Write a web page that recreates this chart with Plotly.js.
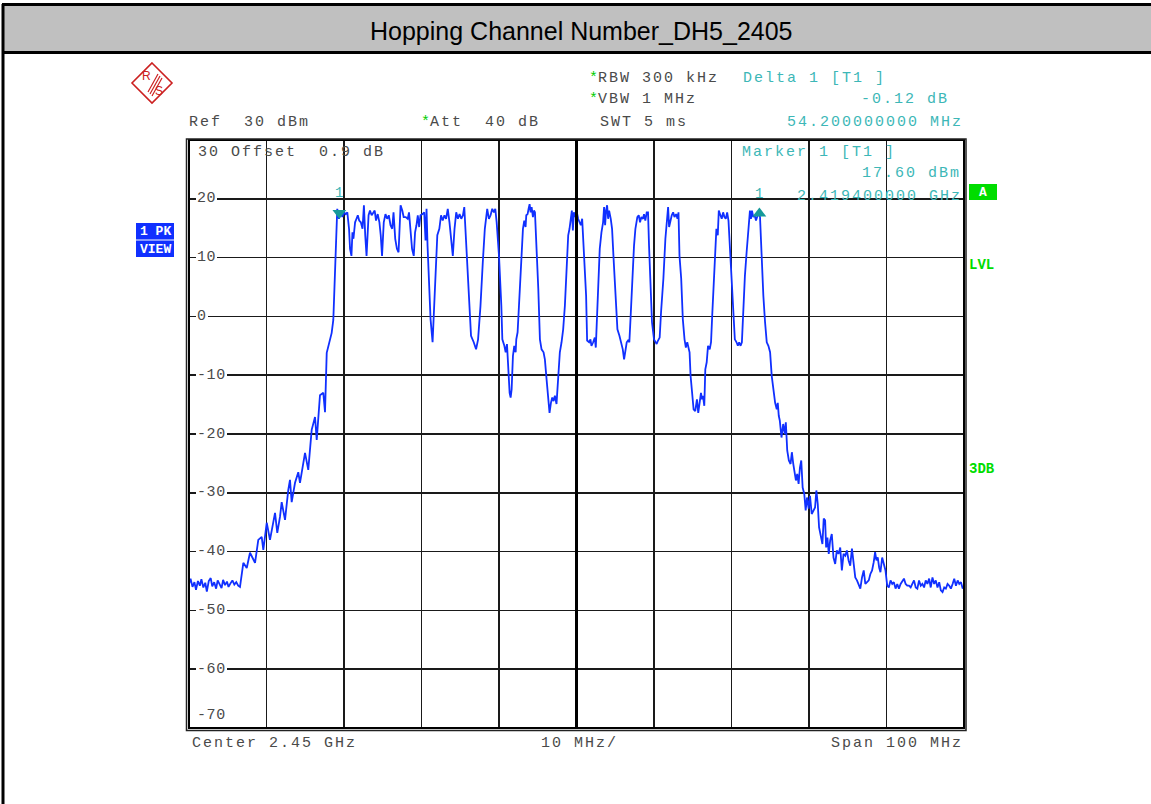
<!DOCTYPE html>
<html><head><meta charset="utf-8">
<script src="https://cdn.plot.ly/plotly-3.0.1.min.js"></script>
<style>html,body{margin:0;padding:0;background:#fff;overflow:hidden}</style>
</head><body><div id="chart" style="width:1151px;height:804px"></div>
<script>
// ---------------- DATA (frequency in MHz, level in dBm) ----------------
const noiseLeft = [[2400.00,-45.5],[2400.20,-44.6],[2400.45,-46.0],[2400.70,-45.2],[2400.90,-46.5],[2401.15,-45.0],[2401.40,-45.8],[2401.60,-44.7],[2401.85,-46.1],[2402.10,-45.3],[2402.30,-46.8],[2402.55,-45.0],[2402.80,-44.5],[2403.00,-45.9],[2403.25,-45.2],[2403.50,-46.3],[2403.70,-44.9],[2403.95,-45.6],[2404.20,-46.2],[2404.40,-44.8],[2404.65,-45.7],[2404.90,-45.1],[2405.10,-46.0],[2405.35,-45.4],[2405.60,-44.9],[2405.85,-45.6],[2406.10,-45.2],[2406.35,-45.8]];
const skirtLeft = [[2406.58,-46.0],[2407.01,-41.9],[2407.45,-42.8],[2407.87,-40.2],[2408.52,-41.9],[2408.94,-38.0],[2409.38,-37.5],[2409.59,-39.7],[2410.03,-35.1],[2410.45,-38.0],[2411.10,-33.4],[2411.39,-36.8],[2411.74,-34.1],[2411.96,-31.6],[2412.39,-34.6],[2412.81,-29.5],[2413.03,-27.8],[2413.25,-31.6],[2413.68,-28.3],[2414.10,-26.5],[2414.32,-28.3],[2414.97,-23.2],[2415.39,-26.1],[2415.83,-19.3],[2416.26,-17.1],[2416.48,-21.0],[2416.90,-13.4],[2417.33,-13.0],[2417.55,-16.3],[2417.77,-6.2],[2417.97,-5.2],[2418.41,-2.8],[2418.62,-0.6],[2419.13,18.3]];
const channelsA = [[2419.35,16.6],[2419.57,18.0],[2419.78,16.9],[2420.00,17.7],[2420.22,17.4],[2420.43,17.7],[2420.65,14.9],[2420.78,11.5],[2420.96,10.3],[2421.09,14.3],[2421.22,13.2],[2421.43,16.0],[2421.61,16.6],[2421.78,17.2],[2421.96,16.3],[2422.17,16.0],[2422.39,14.9],[2422.57,18.9],[2422.74,13.8],[2422.91,10.3],[2423.17,17.2],[2423.35,18.0],[2423.57,17.2],[2423.78,17.7],[2423.96,18.0],[2424.13,16.3],[2424.35,17.4],[2424.57,16.0],[2424.74,13.8],[2424.91,10.3],[2425.13,16.0],[2425.35,17.4],[2425.57,16.6],[2425.78,17.2],[2426.00,15.5],[2426.22,14.9],[2426.39,17.7],[2426.61,13.2],[2426.83,11.5],[2427.04,10.9],[2427.17,17.2],[2427.30,18.9],[2427.52,18.0],[2427.70,16.9],[2427.96,16.9],[2428.22,16.6],[2428.39,17.7],[2428.57,14.3],[2428.78,11.5],[2429.00,10.3],[2429.17,14.3],[2429.35,15.5],[2429.52,17.2],[2429.70,15.2],[2429.87,17.2],[2430.13,17.4],[2430.35,17.7],[2430.52,12.9],[2430.65,18.3],[2430.78,12.0],[2430.96,6.4],[2431.17,-0.5],[2431.43,-4.4],[2431.61,1.8],[2431.87,9.2],[2432.04,13.8],[2432.30,14.9],[2432.52,17.2],[2432.74,16.3],[2432.96,17.2],[2433.17,16.6],[2433.39,18.3],[2433.61,16.0],[2433.83,13.2],[2434.04,10.3],[2434.26,14.9],[2434.48,17.7],[2434.70,16.6],[2434.91,17.4],[2435.13,16.6],[2435.35,17.2],[2435.52,18.6],[2435.78,12.0],[2436.09,4.1],[2436.39,-3.3],[2436.74,-4.4],[2437.04,-5.6],[2437.30,-3.9],[2437.61,1.8],[2437.91,9.2],[2438.17,14.9],[2438.48,18.3],[2438.70,16.6],[2438.91,17.2],[2439.13,18.3],[2439.35,17.7],[2439.52,18.3],[2439.70,16.0],[2440.00,10.3],[2440.30,1.8]];
const channelsB = [[2440.43,-3.9],[2440.69,-5.0],[2440.86,-6.1],[2441.03,-4.7],[2441.20,-9.0],[2441.37,-13.0],[2441.50,-13.8],[2441.63,-12.4],[2441.80,-6.7],[2441.97,-5.0],[2442.15,-6.1],[2442.23,-3.9],[2442.40,-2.7],[2442.62,3.5],[2442.83,9.2],[2443.09,14.9],[2443.26,16.3],[2443.43,15.2],[2443.52,17.2],[2443.69,17.4],[2443.82,18.3],[2443.95,19.1],[2444.08,17.7],[2444.21,18.6],[2444.38,16.9],[2444.51,18.0],[2444.64,17.7],[2444.85,12.0],[2445.07,4.7],[2445.28,-3.9],[2445.49,-5.6],[2445.75,-6.1],[2445.92,-7.3],[2446.14,-10.7],[2446.35,-14.1],[2446.52,-16.4],[2446.70,-14.7],[2446.87,-13.8],[2447.04,-14.4],[2447.21,-13.5],[2447.42,-14.9],[2447.64,-9.5],[2447.85,-6.1],[2448.07,-4.4],[2448.28,-2.2],[2448.50,1.8],[2448.71,9.2],[2448.93,13.8],[2449.10,14.9],[2449.27,17.2],[2449.40,18.0],[2449.53,14.6],[2449.66,17.7],[2449.83,16.9],[2450.00,18.0],[2450.21,16.6],[2450.43,16.0],[2450.56,15.5],[2450.73,16.6],[2450.86,13.2],[2451.07,9.2],[2451.24,3.5],[2451.37,-4.1],[2451.63,-4.4],[2451.80,-3.9],[2451.93,-5.0],[2452.15,-4.4],[2452.36,-3.6],[2452.49,-5.3],[2452.62,-1.0],[2452.79,6.4],[2453.00,11.5],[2453.22,14.3],[2453.43,16.0],[2453.56,18.6],[2453.69,15.5],[2453.82,18.0],[2453.95,18.9],[2454.08,16.6],[2454.21,18.0],[2454.42,16.6],[2454.59,14.9],[2454.81,9.2],[2455.02,3.5],[2455.28,-2.2],[2455.54,-3.3],[2455.79,-4.4],[2455.97,-5.6],[2456.14,-7.3],[2456.31,-5.6],[2456.48,-4.4],[2456.65,-4.1],[2456.82,-4.4],[2456.99,0.1],[2457.17,6.4],[2457.42,12.0],[2457.60,14.9],[2457.85,16.9],[2458.03,17.2],[2458.20,16.0],[2458.37,16.9],[2458.58,16.6],[2458.71,17.4],[2458.88,16.3],[2459.06,17.7],[2459.23,17.7],[2459.36,12.0],[2459.53,6.4],[2459.74,-1.0],[2460.00,-3.9],[2460.17,-4.4],[2460.34,-4.7],[2460.52,-4.1],[2460.73,-3.6]];
const channelsC = [[2460.91,0.7],[2461.21,6.4],[2461.47,13.2],[2461.64,16.0],[2461.82,18.6],[2461.95,15.2],[2462.12,16.3],[2462.29,17.2],[2462.47,17.7],[2462.64,16.9],[2462.86,17.4],[2463.03,16.6],[2463.16,17.7],[2463.29,10.3],[2463.51,6.4],[2463.72,-0.5],[2463.94,-3.9],[2464.11,-5.3],[2464.29,-4.4],[2464.46,-5.6],[2464.59,-6.1],[2464.72,-10.1],[2464.89,-13.0],[2465.11,-15.8],[2465.32,-16.1],[2465.54,-14.1],[2465.71,-16.4],[2465.89,-14.1],[2466.06,-13.0],[2466.19,-14.1],[2466.32,-13.5],[2466.49,-15.2],[2466.62,-9.0],[2466.80,-7.8],[2466.97,-5.0],[2467.19,-5.6],[2467.36,-4.4],[2467.53,0.7],[2467.71,6.4],[2467.88,12.0],[2468.05,14.9],[2468.23,13.8],[2468.36,18.0],[2468.57,17.2],[2468.74,16.6],[2468.92,17.7],[2469.09,16.9],[2469.26,16.6],[2469.44,17.7],[2469.61,16.3],[2469.78,12.0],[2470.00,4.7],[2470.22,-0.5],[2470.43,-3.9],[2470.65,-4.4],[2470.82,-5.0],[2470.99,-4.4],[2471.17,-5.0],[2471.34,-4.4],[2471.52,1.8],[2471.73,6.9],[2471.95,10.9],[2472.12,13.2],[2472.25,16.0],[2472.38,18.0],[2472.51,16.6],[2472.64,18.0],[2472.81,16.9],[2472.99,17.2],[2473.16,16.3],[2473.33,16.9],[2473.51,17.7],[2473.68,16.9],[2473.90,9.2],[2474.11,3.5],[2474.33,-1.0],[2474.55,-4.4],[2474.76,-5.0],[2474.98,-6.1],[2475.19,-10.1],[2475.41,-13.0],[2475.63,-14.7],[2475.84,-15.8],[2475.97,-14.7],[2476.10,-16.9],[2476.23,-17.7]];
const skirtRight = [[2476.45,-20.6],[2476.67,-18.3],[2476.88,-20.0],[2477.01,-18.0],[2477.19,-22.8],[2477.40,-24.5],[2477.62,-25.1],[2477.79,-23.1],[2477.97,-25.1],[2478.14,-26.2],[2478.31,-27.9],[2478.48,-26.8],[2478.66,-28.5],[2478.83,-25.7],[2479.00,-24.5],[2479.18,-29.1],[2479.39,-30.2],[2479.57,-33.0],[2479.74,-30.8],[2479.96,-32.7],[2480.13,-30.5],[2480.35,-33.6],[2480.56,-33.0],[2480.78,-32.5],[2480.95,-29.6],[2481.13,-31.9],[2481.30,-35.9],[2481.52,-37.6],[2481.73,-38.7],[2481.90,-34.4],[2482.08,-34.7],[2482.21,-39.3],[2482.38,-37.6],[2482.55,-40.4],[2482.73,-38.1],[2482.94,-37.0],[2483.16,-41.0],[2483.38,-42.1],[2483.59,-39.8],[2483.81,-40.4],[2484.03,-39.3],[2484.24,-43.2],[2484.46,-40.4],[2484.68,-40.7],[2484.89,-39.8],[2485.11,-41.5],[2485.32,-42.4],[2485.54,-39.5],[2485.76,-42.7],[2485.97,-44.4],[2486.19,-44.9],[2486.41,-45.8],[2486.62,-46.3],[2486.84,-44.4],[2487.06,-43.2],[2487.27,-45.5],[2487.49,-45.2],[2487.71,-44.9],[2487.92,-43.8],[2488.14,-43.2],[2488.35,-41.8],[2488.53,-40.1],[2488.70,-41.5],[2488.87,-41.0],[2489.05,-42.7],[2489.22,-43.5],[2489.44,-41.0],[2489.65,-42.1],[2489.87,-43.2],[2490.09,-45.8],[2490.30,-46.1],[2490.52,-44.9],[2490.74,-45.5],[2490.95,-45.2],[2491.17,-46.3],[2491.39,-45.5],[2491.60,-46.3],[2491.82,-45.5],[2492.04,-44.9],[2492.25,-44.6],[2492.47,-45.5],[2492.68,-45.8],[2492.90,-45.8],[2493.12,-46.1],[2493.33,-45.5],[2493.55,-44.9],[2493.77,-46.1],[2493.98,-46.3],[2494.20,-44.9],[2494.42,-45.8],[2494.63,-45.5],[2494.85,-46.1],[2495.06,-44.9],[2495.28,-45.5],[2495.50,-44.6],[2495.71,-46.1],[2495.93,-44.4],[2496.15,-45.5],[2496.36,-44.9],[2496.58,-46.1],[2496.80,-45.2],[2497.01,-46.6],[2497.23,-46.9],[2497.45,-46.1],[2497.66,-46.3],[2497.88,-45.5],[2498.10,-45.8],[2498.31,-46.3],[2498.53,-45.5],[2498.74,-44.6],[2498.96,-45.8],[2499.18,-44.9],[2499.39,-45.5],[2499.61,-45.2],[2499.83,-46.3],[2500.00,-45.8]];

const markerFreq = [2419.4];   // Marker 1 [T1]
const markerLevel = [17.6];
const deltaFreq = [2473.6];    // Delta 1 [T1]  (+54.2 MHz, -0.12 dB)
const deltaLevel = [17.48];
const yTickValues = [20, 10, 0, -10, -20, -30, -40, -50, -60, -70];
const xRange = [2400, 2500];
const yRange = [-70, 30];

// ---------------- BUILD ----------------
const segments = [noiseLeft, skirtLeft, channelsA, channelsB, channelsC, skirtRight];
const freq = [], level = [];
segments.forEach(s => s.forEach(p => { freq.push(p[0]); level.push(p[1]); }));

const PL = 189, PR = 964, PT = 140, PB = 728;
const px = x => (x - PL) / (PR - PL);
const py = y => (PB - y) / (PB - PT);
const MONO = 'Liberation Mono, DejaVu Sans Mono, monospace';
const GRAY = '#4a4a4a', CYAN = '#3db7b7', GREEN = '#00dd00', BLUE = '#1030ff';
const sp = (s, ls) => '<span style="letter-spacing:' + (ls === undefined ? 2 : ls) + 'px">' + s.replace(/ /g, '\u00a0') + '</span>';
const star = '<span style="color:#00cc00">*</span>';

function lab(x, y, text, o) {
  return Object.assign({xref: 'paper', yref: 'paper', x: px(x), y: py(y), xanchor: 'left', yanchor: 'middle',
    text: text, showarrow: false, borderpad: 0, borderwidth: 0,
    font: {family: MONO, size: 15, color: GRAY}}, o || {});
}

const annotations = [
  lab(581, 31, 'Hopping Channel Number_DH5_2405', {xanchor: 'center', font: {family: 'Liberation Sans, Arial, sans-serif', size: 25, color: '#000'}}),
  lab(189, 122, sp('Ref  30 dBm')),
  lab(421, 122, star + sp('Att  40 dB')),
  lab(589, 78, star + sp('RBW 300 kHz')),
  lab(589, 100, star + sp('VBW 1 MHz')),
  lab(600, 122, sp('SWT 5 ms')),
  lab(743, 78, sp('Delta 1 [T1 ]'), {font: {family: MONO, size: 15, color: CYAN}}),
  lab(861, 100, sp('-0.12 dB'), {font: {family: MONO, size: 15, color: CYAN}}),
  lab(787, 122, sp('54.200000000 MHz'), {font: {family: MONO, size: 15, color: CYAN}}),
  lab(198, 152, sp('30 Offset  0.9 dB')),
  lab(742, 152, sp('Marker 1 [T1 ]'), {font: {family: MONO, size: 15, color: CYAN}}),
  lab(862, 174, sp('17.60 dBm'), {font: {family: MONO, size: 15, color: CYAN}}),
  lab(797, 196, sp('2.419400000 GHz'), {font: {family: MONO, size: 15, color: CYAN}}),
  lab(192, 743, sp('Center 2.45 GHz')),
  lab(541, 743, sp('10 MHz/')),
  lab(831, 743, sp('Span 100 MHz')),
  lab(155, 231, '<b>1 PK</b>', {xanchor: 'center', font: {family: MONO, size: 13, color: '#fff'}}),
  lab(155, 249, '<b>VIEW</b>', {xanchor: 'center', font: {family: MONO, size: 13, color: '#fff'}}),
  lab(983, 192, '<b>A</b>', {xanchor: 'center', font: {family: MONO, size: 13, color: '#fff'}}),
  lab(969, 265, '<b>LVL</b>', {font: {family: MONO, size: 14, color: GREEN}}),
  lab(969, 469, '<b>3DB</b>', {font: {family: MONO, size: 14, color: GREEN}}),
  lab(146, 76, 'R', {xanchor: 'center', font: {family: 'Liberation Sans, Arial', size: 12, color: '#cc2020'}}),
  lab(159, 91, 'S', {xanchor: 'center', font: {family: 'Liberation Sans, Arial', size: 12, color: '#cc2020'}})
];
// marker labels (tied to marker positions)
annotations.push({xref: 'x', yref: 'y', x: markerFreq[0], y: markerLevel[0], yshift: 20, text: '1', showarrow: false,
  font: {family: MONO, size: 14, color: CYAN}});
annotations.push({xref: 'x', yref: 'y', x: deltaFreq[0], y: deltaLevel[0], yshift: 20, text: '1', showarrow: false,
  font: {family: MONO, size: 14, color: CYAN}});
// y tick labels drawn inside the grid
yTickValues.forEach(v => {
  annotations.push({xref: 'paper', yref: 'y', x: px(196), y: v, yshift: v === -70 ? 13 : 0, xanchor: 'left', yanchor: 'middle',
    text: sp(String(v), 0.6), showarrow: false, bgcolor: v === -70 ? 'rgba(0,0,0,0)' : '#fff', borderpad: 1, borderwidth: 0,
    font: {family: MONO, size: 15, color: GRAY}});
});

const pathStr = pts => 'M' + pts.map(p => px(p[0]) + ',' + py(p[1])).join('L') + 'Z';
const red = '#cc2020';
const shapes = [
  {type: 'path', xref: 'paper', yref: 'paper', path: pathStr([[3, 4], [1300, 4], [1300, 53], [3, 53]]), fillcolor: '#c0c0c0', line: {color: 'rgba(0,0,0,0)', width: 0}, layer: 'below'},
  {type: 'line', xref: 'paper', yref: 'paper', x0: px(2), x1: px(1300), y0: py(4.5), y1: py(4.5), line: {color: '#000', width: 3}},
  {type: 'line', xref: 'paper', yref: 'paper', x0: px(2), x1: px(1300), y0: py(52.5), y1: py(52.5), line: {color: '#000', width: 3}},
  {type: 'line', xref: 'paper', yref: 'paper', x0: px(3), x1: px(3), y0: py(4), y1: py(804), line: {color: '#000', width: 3}},
  {type: 'rect', xref: 'paper', yref: 'paper', x0: 0, x1: 1, y0: 0, y1: 1, line: {color: '#000', width: 2}},
  {type: 'rect', xref: 'paper', yref: 'paper', x0: px(186.5), x1: px(966), y0: py(730.5), y1: py(139), line: {color: '#222', width: 1.5}},
  {type: 'line', xref: 'x', yref: 'paper', x0: 2450, x1: 2450, y0: 0, y1: 1, line: {color: '#000', width: 3}},
  {type: 'rect', xref: 'paper', yref: 'paper', x0: px(136), x1: px(174), y0: py(239.5), y1: py(223), fillcolor: BLUE, line: {width: 0}},
  {type: 'rect', xref: 'paper', yref: 'paper', x0: px(136), x1: px(174), y0: py(257), y1: py(240.5), fillcolor: BLUE, line: {width: 0}},
  {type: 'rect', xref: 'paper', yref: 'paper', x0: px(969), x1: px(997), y0: py(200), y1: py(184), fillcolor: GREEN, line: {width: 0}},
  {type: 'path', xref: 'paper', yref: 'paper', path: pathStr([[152, 63], [172, 83], [152, 103], [132, 83]]), line: {color: red, width: 1.6}},
  {type: 'line', xref: 'paper', yref: 'paper', x0: px(148), y0: py(92), x1: px(158), y1: py(74), line: {color: red, width: 1.2}},
  {type: 'line', xref: 'paper', yref: 'paper', x0: px(150), y0: py(94), x1: px(160), y1: py(76), line: {color: red, width: 1.2}},
  {type: 'line', xref: 'paper', yref: 'paper', x0: px(152), y0: py(96), x1: px(162), y1: py(78), line: {color: red, width: 1.2}}
];

const traces = [
  {type: 'scatter', mode: 'lines', x: freq, y: level, line: {color: BLUE, width: 1.8}, hoverinfo: 'skip'},
  {type: 'scatter', mode: 'markers', x: markerFreq, y: markerLevel, marker: {symbol: 'triangle-down', size: 12, color: '#169a9a'}, hoverinfo: 'skip'},
  {type: 'scatter', mode: 'markers', x: deltaFreq, y: deltaLevel, marker: {symbol: 'triangle-up', size: 12, color: '#169a9a'}, hoverinfo: 'skip'}
];

const axisCommon = {showgrid: true, gridcolor: '#1a1a1a', gridwidth: 1.5, zeroline: false, showticklabels: false, ticks: '', showline: false, fixedrange: true};
const layout = {
  width: 1151, height: 804, margin: {l: PL, r: 1151 - PR, t: PT, b: 804 - PB, pad: 0},
  paper_bgcolor: '#fff', plot_bgcolor: '#fff', showlegend: false,
  xaxis: Object.assign({range: xRange, dtick: 10, tick0: 2400}, axisCommon),
  yaxis: Object.assign({range: yRange, dtick: 10, tick0: -70}, axisCommon),
  shapes: shapes, annotations: annotations
};
Plotly.newPlot('chart', traces, layout, {staticPlot: true, displayModeBar: false});
</script></body></html>
